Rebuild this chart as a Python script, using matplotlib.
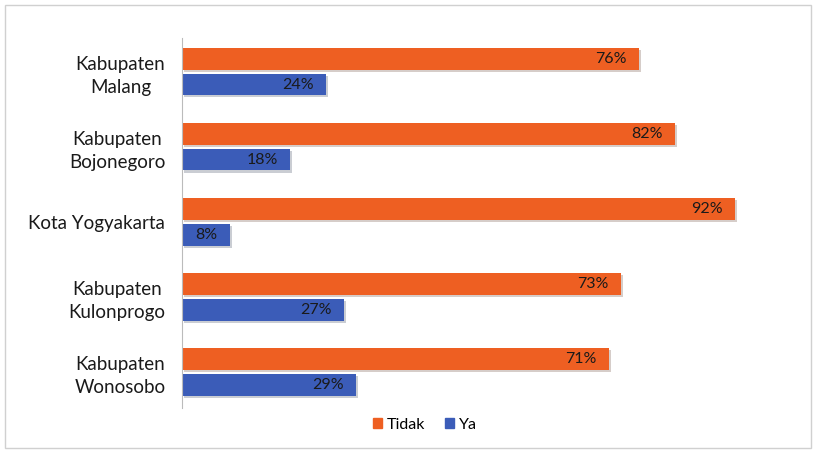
import matplotlib
matplotlib.use("Agg")
import matplotlib.pyplot as plt
import matplotlib.patheffects as pe
from matplotlib.patches import Rectangle, Patch
import numpy as np

categories = ["Kabupaten\nMalang", "Kabupaten\nBojonegoro", "Kota Yogyakarta",
              "Kabupaten\nKulonprogo", "Kabupaten\nWonosobo"]
tidak = [76, 82, 92, 73, 71]
ya = [24, 18, 8, 27, 29]
series_names = ["Tidak", "Ya"]
colors = ["#EE5F22", "#3B5CB8"]

plt.rcParams['font.family'] = ['Lato', 'DejaVu Sans']

fig = plt.figure(figsize=(8.15, 4.51), dpi=100)
ax = fig.add_axes([182/815, 1-408/451, 601/815, 370/451])

y = np.arange(len(categories))
h = 0.285
shadow = [pe.SimplePatchShadow(offset=(1.5, -1.5), alpha=0.22), pe.Normal()]
b1 = ax.barh(y - h/2 - 0.03, tidak, height=h, color=colors[0])
b2 = ax.barh(y + h/2 + 0.03, ya, height=h, color=colors[1])
for bars in (b1, b2):
    for b in bars:
        b.set_path_effects(shadow)

for bars, vals in ((b1, tidak), (b2, ya)):
    for b, v in zip(bars, vals):
        ax.annotate(f"{v}%", (v, b.get_y() + b.get_height()/2), xytext=(-9, 0),
                    textcoords="offset points", ha="right", va="center",
                    fontsize=11.5, color="#1A1A1A")

ax.set_xlim(0, 100)
ax.set_ylim(4.48, -0.45)
ax.set_yticks(y)
ax.set_yticklabels(categories, fontsize=13.5, color="#1A1A1A")
for lab in ax.get_yticklabels():
    lab.set_multialignment("center")
    lab.set_linespacing(1.4)
ax.tick_params(axis='y', length=0, pad=12)
ax.set_xticks([])
for s in ("top", "right", "bottom"):
    ax.spines[s].set_visible(False)
ax.spines["left"].set_color("#BBBBBB")
ax.spines["left"].set_linewidth(0.8)

handles = [Patch(color=c) for c in colors]
fig.legend(handles=handles, labels=series_names, loc="center",
           bbox_to_anchor=(425/815, 1-425/451), ncol=2, frameon=False,
           fontsize=11.5, handlelength=0.6, handleheight=0.6, handletextpad=0.3,
           columnspacing=1.2)

fig.patches.append(Rectangle((5/815, 3/451), 806/815, 443/451, transform=fig.transFigure,
                             fill=False, edgecolor="#D0D0D0", linewidth=1))

fig.savefig("out.png", dpi=100)
